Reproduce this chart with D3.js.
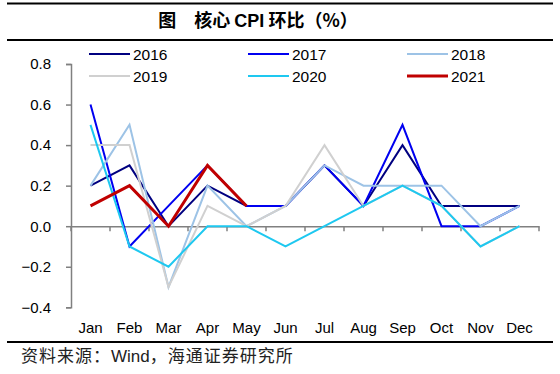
<!DOCTYPE html>
<html>
<head>
<meta charset="utf-8">
<script src="https://cdn.jsdelivr.net/npm/d3@7"></script>
<style>
  body { margin: 0; background: #fff; }
  text { font-family: "Liberation Sans", Arial, sans-serif; }
</style>
</head>
<body>
<script>
// months and series (core CPI m/m, %)
const months = ['Jan','Feb','Mar','Apr','May','Jun','Jul','Aug','Sep','Oct','Nov','Dec']
const y2016 = [0.2, 0.3, 0.0, 0.2, 0.1, 0.1, 0.3, 0.1, 0.4, 0.1, 0.1, 0.1]
const y2017 = [0.6, -0.1, 0.1, 0.3, 0.1, 0.1, 0.3, 0.1, 0.5, 0.0, 0.0, 0.1]
const y2018 = [0.2, 0.5, -0.3, 0.2, 0.0, 0.1, 0.3, 0.2, 0.2, 0.2, 0.0, 0.1]
const y2019 = [0.4, 0.4, -0.3, 0.1, 0.0, 0.1, 0.4, 0.1, 0.2, 0.1, -0.1, 0.0]
const y2020 = [0.5, -0.1, -0.2, 0.0, 0.0, -0.1, 0.0, 0.1, 0.2, 0.1, -0.1, 0.0]
const y2021 = [0.1, 0.2, 0.0, 0.3, 0.1]
const yTicks = [-0.4, -0.2, 0, 0.2, 0.4, 0.6, 0.8]

const series = [
    { name: '2016', values: y2016, color: '#000080', w: 2 },
    { name: '2017', values: y2017, color: '#0000f0', w: 2 },
    { name: '2018', values: y2018, color: '#9dc3e6', w: 2 },
    { name: '2019', values: y2019, color: '#d0d0d0', w: 2 },
    { name: '2020', values: y2020, color: '#1ec8f0', w: 2 },
    { name: '2021', values: y2021, color: '#c00000', w: 3 }
]

const m = { width: 560, height: 374 }
const cjk = '"Noto Sans CJK SC", sans-serif'

const svg = d3.select('body').append('svg')
    .attr('width', m.width)
    .attr('height', m.height)

// header / footer rules
svg.append('line').attr('x1', 7).attr('x2', 553).attr('y1', 3.5).attr('y2', 3.5)
    .attr('stroke', '#000').attr('stroke-width', 2)
svg.append('line').attr('x1', 7).attr('x2', 553).attr('y1', 40).attr('y2', 40)
    .attr('stroke', '#000').attr('stroke-width', 2)
svg.append('line').attr('x1', 7).attr('x2', 553).attr('y1', 342).attr('y2', 342)
    .attr('stroke', '#000').attr('stroke-width', 2)

const title = svg.append('text')
    .attr('x', 258).attr('y', 27)
    .attr('text-anchor', 'middle')
    .style('font-size', '18px')
    .style('font-weight', 'bold')
title.append('tspan').style('font-family', cjk).text('图　核心 ')
title.append('tspan').text('CPI')
title.append('tspan').style('font-family', cjk).text(' 环比（%）')

const src = svg.append('text')
    .attr('x', 21).attr('y', 362)
    .style('font-size', '17px')
    .attr('fill', '#222')
src.append('tspan').style('font-family', cjk).style('letter-spacing', '1px').text('资料来源：')
src.append('tspan').text('Wind')
src.append('tspan').style('font-family', cjk).style('letter-spacing', '1px').text('，海通证券研究所')

const x = d3.scaleBand().domain(months).range([71, 539])
const y = d3.scaleLinear().domain([-0.4, 0.8]).range([307.3, 64])

// y axis
const yAxis = svg.append('g')
    .attr('transform', 'translate(71,0)')
    .call(d3.axisLeft(y).tickValues(yTicks).tickSize(5).tickFormat(d3.format('.1f')))
yAxis.select('.domain').attr('stroke', '#808080').attr('stroke-width', 1.5)
yAxis.selectAll('.tick line').attr('stroke', '#808080').attr('stroke-width', 1.5)
yAxis.selectAll('.tick text')
    .attr('x', -20)
    .style('font-size', '15px').attr('fill', '#000')
    .text(d => d === 0 ? '0.0' : d3.format('.1f')(d))

// x axis at zero, month labels at bottom
const xAxis = svg.append('g')
    .attr('transform', `translate(0,${y(0)})`)
    .call(d3.axisBottom(x).tickSize(0).tickFormat(''))
xAxis.select('.domain').attr('stroke', '#808080').attr('stroke-width', 1.5)
const edges = months.map(d => x(d)).concat([x.range()[1]])
xAxis.selectAll('.edge')
    .data(edges)
    .enter()
    .append('line')
        .attr('x1', d => d).attr('x2', d => d)
        .attr('y1', 0).attr('y2', 5)
        .attr('stroke', '#808080').attr('stroke-width', 1.5)

svg.selectAll('.mlabel')
    .data(months)
    .enter()
    .append('text')
        .attr('x', d => x(d) + x.bandwidth() / 2)
        .attr('y', 333)
        .attr('text-anchor', 'middle')
        .style('font-size', '15px')
        .text(d => d)

const line = d3.line()
    .x((d, i) => x(months[i]) + x.bandwidth() / 2)
    .y(d => y(d))

svg.selectAll('.series')
    .data(series)
    .enter()
    .append('path')
        .attr('fill', 'none')
        .attr('stroke', d => d.color)
        .attr('stroke-width', d => d.w)
        .attr('stroke-linejoin', 'miter')
        .attr('d', d => line(d.values))

// legend, 3 columns x 2 rows
const lg = svg.selectAll('.legend')
    .data(series)
    .enter()
    .append('g')
        .attr('transform', (d, i) => `translate(${89 + (i % 3) * 159},${54 + Math.floor(i / 3) * 22})`)
lg.append('line')
    .attr('x1', 0).attr('x2', 41)
    .attr('stroke', d => d.color)
    .attr('stroke-width', d => d.w)
lg.append('text')
    .attr('x', 44).attr('y', 5.5)
    .style('font-size', '15.5px')
    .text(d => d.name)
</script>
</body>
</html>
